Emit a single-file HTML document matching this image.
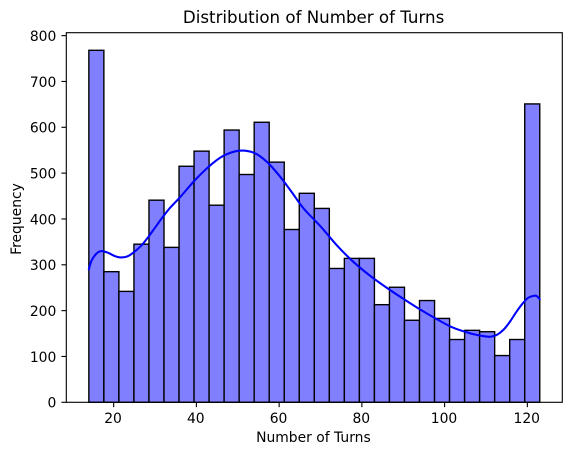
<!DOCTYPE html>
<html>
<head>
<meta charset="utf-8">
<title>Distribution of Number of Turns</title>
<style>
html,body{margin:0;padding:0;background:#fff;width:571px;height:455px;overflow:hidden}
svg{display:block}
text{font-family:"DejaVu Sans",sans-serif;fill:#000}
</style>
</head>
<body>
<svg id="chart" xmlns="http://www.w3.org/2000/svg" width="571" height="455" viewBox="0 0 571 455"></svg>
<script>
const binCounts = [768,285,242,345,441,338,515,548,430,594,497,611,524,377,456,423,292,314,314,213,251,179,222,183,137,157,154,102,137,651];
const binRange = [14,123];
const kdeX = [14,14.7,15.9,17.1,18.7,20.3,21.9,23.5,25.1,26.8,28.4,30,31.6,33.6,36,40,44,47,50.5,54,57,60,63,66,70,74,78,82,86,90,94,98,102,106,109,111,112.6,114.2,115.8,117.4,119,120.2,121.4,122.2,123];
const kdeY = [290,310,325,330,326,319,316,319,329,343,361,381,401,424,447,488,522,540,549,544,525,495,459,422,384,342,306,276,250,226,203,182,163,151,145,143,147,158,176,198,217,228,232,232,225];
const xTickValues = [20,40,60,80,100,120];
const yTickValues = [0,100,200,300,400,500,600,700,800];
const xDomain = [8.55,128.45];
const yDomain = [0,806.4];
const titleText = "Distribution of Number of Turns";
const xLabelText = "Number of Turns";
const yLabelText = "Frequency";

const NS = "http://www.w3.org/2000/svg";
const svg = document.getElementById("chart");
const plot = {left:66.3,right:562.3,top:32.7,bottom:402.3};
function xScale(v){return plot.left+(v-xDomain[0])/(xDomain[1]-xDomain[0])*(plot.right-plot.left);}
function yScale(v){return plot.bottom-(v-yDomain[0])/(yDomain[1]-yDomain[0])*(plot.bottom-plot.top);}
function make(tag,attrs){
  const el=document.createElementNS(NS,tag);
  for(const k in attrs){el.setAttribute(k,attrs[k]);}
  return el;
}

const bars=make("g",{});


svg.appendChild(bars);
const binWidth=(binRange[1]-binRange[0])/binCounts.length;
binCounts.forEach(function(c,i){
  const x0=xScale(binRange[0]+i*binWidth);
  const x1=xScale(binRange[0]+(i+1)*binWidth);
  const y=yScale(c);
  const r=make("rect",{x:x0,y:y,width:x1-x0,height:yScale(0)-y,fill:"#8080ff",stroke:"#000","stroke-width":1.39});
  
  
  bars.appendChild(r);
});

const pts=kdeX.map(function(x,i){return [xScale(x),yScale(kdeY[i])];});
let d="M"+pts[0][0]+" "+pts[0][1];
for(let i=0;i<pts.length-1;i++){
  const p0=pts[Math.max(i-1,0)],p1=pts[i],p2=pts[i+1],p3=pts[Math.min(i+2,pts.length-1)];
  d+=" C"+(p1[0]+(p2[0]-p0[0])/6)+" "+(p1[1]+(p2[1]-p0[1])/6)+" "+(p2[0]-(p3[0]-p1[0])/6)+" "+(p2[1]-(p3[1]-p1[1])/6)+" "+p2[0]+" "+p2[1];
}
const kde=make("path",{d:d,fill:"none",stroke:"#0000ff","stroke-width":2.08,"stroke-linecap":"round","stroke-linejoin":"round"});


svg.appendChild(kde);

const frame=make("rect",{x:plot.left,y:plot.top,width:plot.right-plot.left,height:plot.bottom-plot.top,fill:"none",stroke:"#000","stroke-width":1.11});


svg.appendChild(frame);

xTickValues.forEach(function(v){
  const x=xScale(v);
  const t=make("line",{x1:x,x2:x,y1:plot.bottom,y2:plot.bottom+4.86,stroke:"#000","stroke-width":1.11});
  
  
  svg.appendChild(t);
  const l=make("text",{x:x-0.6,y:423,"text-anchor":"middle","font-size":13.89});
  
  
  l.textContent=v;
  svg.appendChild(l);
});
yTickValues.forEach(function(v){
  const y=yScale(v);
  const t=make("line",{x1:plot.left-4.86,x2:plot.left,y1:y,y2:y,stroke:"#000","stroke-width":1.11});
  
  
  svg.appendChild(t);
  const l=make("text",{x:56.3,y:y+5.3,"text-anchor":"end","font-size":13.89});
  
  
  l.textContent=v;
  svg.appendChild(l);
});

const title=make("text",{x:(plot.left+plot.right)/2-0.7,y:23,"text-anchor":"middle","font-size":16.67});


title.textContent=titleText;
svg.appendChild(title);

const xLabel=make("text",{x:(plot.left+plot.right)/2-0.9,y:442,"text-anchor":"middle","font-size":13.89});


xLabel.textContent=xLabelText;
svg.appendChild(xLabel);

const yLabel=make("text",{x:0,y:0,"text-anchor":"middle","font-size":13.89,transform:"translate(21 219) rotate(-90)"});


yLabel.textContent=yLabelText;
svg.appendChild(yLabel);
</script>
</body>
</html>
